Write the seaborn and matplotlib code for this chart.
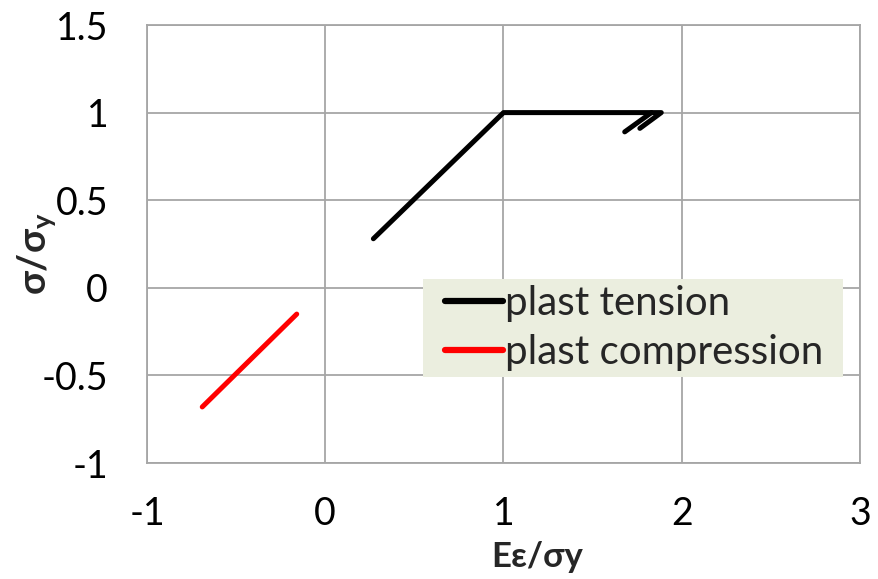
import numpy as np
import pandas as pd
import matplotlib
matplotlib.use("Agg")
import matplotlib.pyplot as plt
from matplotlib.patches import Rectangle
import seaborn as sns

# Normalised stress-strain paths
series_names = ["plast tension", "plast compression"]

tension_x_main = [0.27, 1.0, 1.885, 1.765]
tension_y_main = [0.28, 1.0, 1.0, 0.91]
tension_x_unload = [1.83, 1.68]
tension_y_unload = [1.0, 0.89]

compression_x = [-0.69, -0.16]
compression_y = [-0.68, -0.15]

x_ticks = [-1, 0, 1, 2, 3]
y_ticks = [-1, -0.5, 0, 0.5, 1, 1.5]
y_tick_labels = ["-1", "-0.5", "0", "0.5", "1", "1.5"]

frames = [
    pd.DataFrame({"x": tension_x_main, "y": tension_y_main,
                  "series": series_names[0], "seg": 0}),
    pd.DataFrame({"x": tension_x_unload, "y": tension_y_unload,
                  "series": series_names[0], "seg": 1}),
    pd.DataFrame({"x": compression_x, "y": compression_y,
                  "series": series_names[1], "seg": 2}),
]
df = pd.concat(frames, ignore_index=True)

sns.set_theme(style="whitegrid")
fam = ["Lato", "Noto Sans", "DejaVu Sans"]
plt.rcParams["font.family"] = fam

fig = plt.figure(figsize=(8.79, 5.79), dpi=100)
ax = fig.add_axes([147 / 879, 1 - 463 / 579, 713 / 879, 438 / 579])

sns.lineplot(data=df, x="x", y="y", hue="series", units="seg",
             estimator=None, sort=False, ax=ax,
             palette={series_names[0]: "#000000", series_names[1]: "#FF0000"},
             linewidth=3.6, solid_capstyle="round")

ax.set_xlim(-1, 3)
ax.set_ylim(-1, 1.5)
ax.set_xticks(x_ticks)
ax.set_xticklabels([str(v) for v in x_ticks])
ax.set_yticks(y_ticks)
ax.set_yticklabels(y_tick_labels)
ax.tick_params(axis="x", length=0, pad=24, labelsize=27, colors="black")
ax.tick_params(axis="y", length=0, pad=28, labelsize=27, colors="black")
ax.grid(True, color="#A6A6A6", linewidth=1.3)
for s in ax.spines.values():
    s.set_visible(True)
    s.set_color("#A6A6A6")
    s.set_linewidth(1.3)
ax.set_xlabel("")
ax.set_ylabel("")

fig.text(537 / 879, 1 - 557 / 579, "Eε/σy", ha="center", va="center",
         fontsize=25, fontweight="bold", family=fam)
fig.text(37 / 879, 1 - 254 / 579, r"σ/σ$_\mathregular{y}$", ha="center",
         va="center", rotation=90, fontsize=28, fontweight="bold", family=fam)

# legend panel background
ax.add_patch(Rectangle((0.387, 0.196), 0.589, 0.224, transform=ax.transAxes,
                       facecolor="#EBEEDF", edgecolor="none", zorder=4,
                       clip_on=False))

leg = ax.legend(loc="center left", bbox_to_anchor=(0.418, 0.309),
                frameon=False, fontsize=29, handlelength=1.45,
                handletextpad=0.05, labelspacing=0.3, borderpad=0.0,
                borderaxespad=0.0)
leg.set_zorder(5)
for line in leg.get_lines():
    line.set_linewidth(4.5)
    line.set_solid_capstyle("round")

fig.savefig("out.png", dpi=100)
